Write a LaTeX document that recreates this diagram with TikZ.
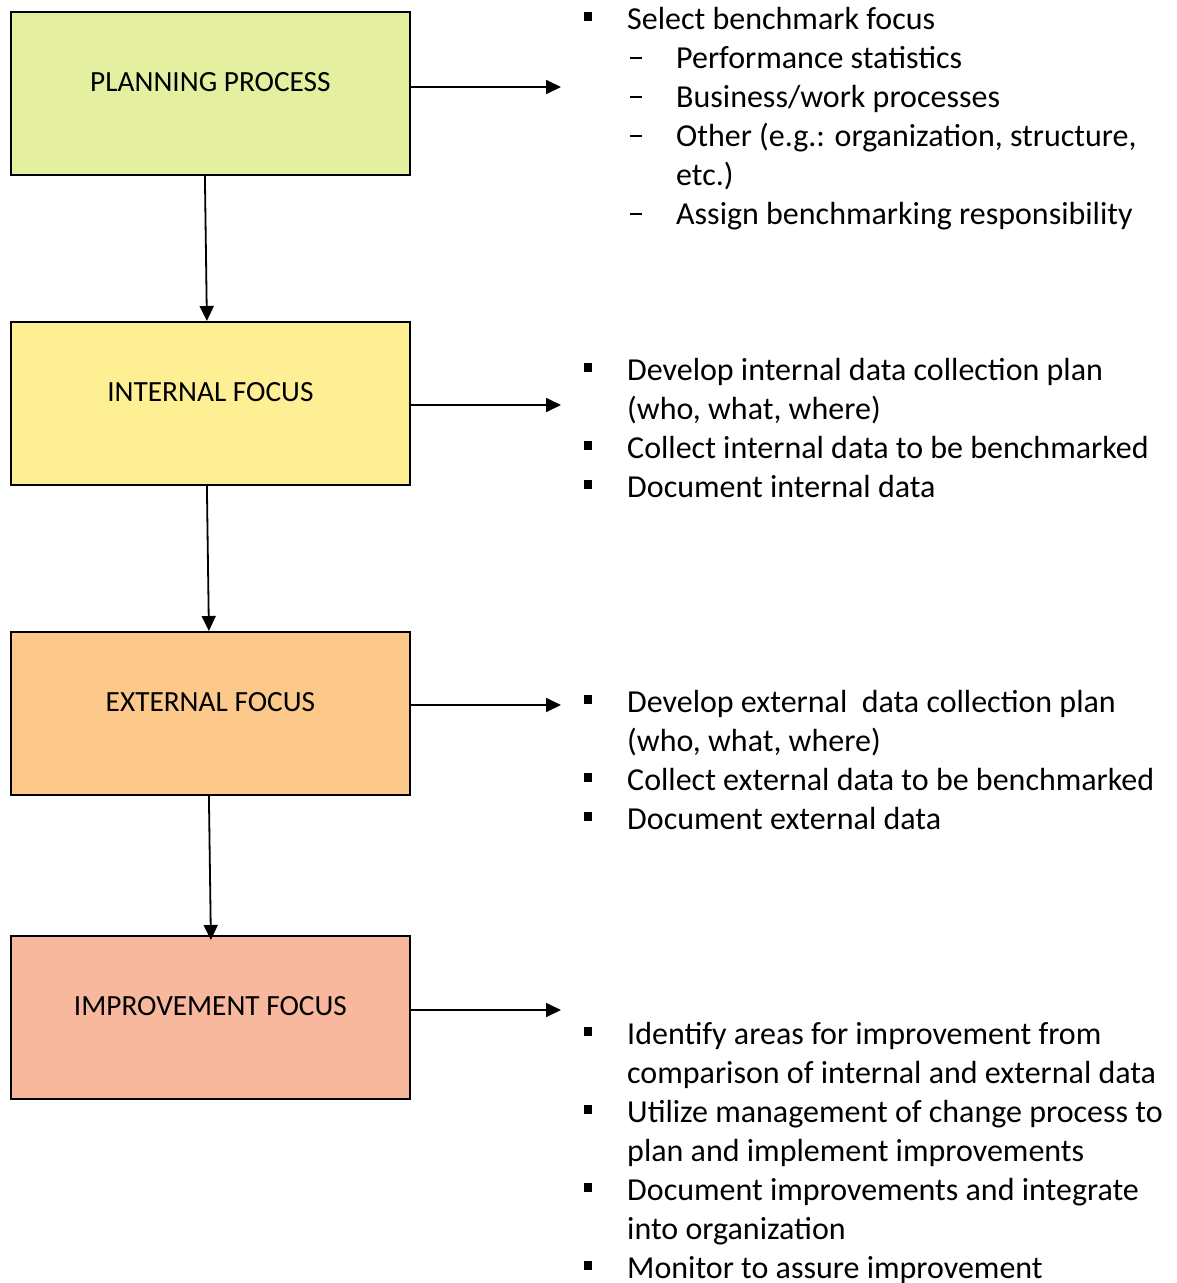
\documentclass[tikz,border=0pt]{standalone}
\usepackage{fontspec}
\setmainfont{Carlito}
\usetikzlibrary{arrows.meta}
\definecolor{cplan}{HTML}{E4EFA0}
\definecolor{cint}{HTML}{FFEF94}
\definecolor{cext}{HTML}{FDC98B}
\definecolor{cimp}{HTML}{F7B89E}
\newcommand{\bul}{\llap{\raisebox{8.5pt}{\rule{8.5pt}{8.5pt}}\hspace{35pt}}}
\newcommand{\dsh}{\llap{\raisebox{9pt}{\rule{12pt}{1.6pt}}\hspace{34pt}}}
\tikzset{
  stagebox/.style={draw, line width=1.8pt, anchor=north west, inner xsep=0pt, inner ysep=0pt,
    minimum width=399pt, text height=80pt, text depth=83pt, font=\fontsize{29.3}{35}\selectfont},
  txt/.style={anchor=base west, inner sep=0pt, font=\fontsize{32}{39}\selectfont},
  conn/.style={line width=1.8pt, -{Triangle[length=15pt,width=14pt]}},
}
\begin{document}
\begin{tikzpicture}[x=1pt,y=-1pt]
\useasboundingbox (0,0) rectangle (1176,1283);
\node[stagebox, fill=cplan] (b1) at (10,11) {PLANNING PROCESS};
\node[stagebox, fill=cint] (b2) at (10,321) {INTERNAL FOCUS};
\node[stagebox, fill=cext] (b3) at (10,631) {EXTERNAL FOCUS};
\node[stagebox, fill=cimp] (b4) at (10,935) {IMPROVEMENT FOCUS};

% right texts
\node[txt] (t11) at (627,29) {\bul Select benchmark focus};
\node[txt] (t12) at (676,68) {\dsh Performance statistics};
\node[txt] (t13) at (676,107) {\dsh Business/work processes};
\node[txt] (t14) at (676,146) {\dsh Other (e.g.: organization, structure,};
\node[txt] (t15) at (676,185) {etc.)};
\node[txt] (t16) at (676,224) {\dsh Assign benchmarking responsibility};

\node[txt] (t21) at (627,380) {\bul Develop internal data collection plan};
\node[txt] (t22) at (627,419) {(who, what, where)};
\node[txt] (t23) at (627,458) {\bul Collect internal data to be benchmarked};
\node[txt] (t24) at (627,497) {\bul Document internal data};

\node[txt] (t31) at (627,712) {\bul Develop external\ \ data collection plan};
\node[txt] (t32) at (627,751) {(who, what, where)};
\node[txt] (t33) at (627,790) {\bul Collect external data to be benchmarked};
\node[txt] (t34) at (627,829) {\bul Document external data};

\node[txt] (t41) at (627,1044) {\bul Identify areas for improvement from};
\node[txt] (t42) at (627,1083) {comparison of internal and external data};
\node[txt] (t43) at (627,1122) {\bul Utilize management of change process to};
\node[txt] (t44) at (627,1161) {plan and implement improvements};
\node[txt] (t45) at (627,1200) {\bul Document improvements and integrate};
\node[txt] (t46) at (627,1239) {into organization};
\node[txt] (t47) at (627,1278) {\bul Monitor to assure improvement};

% free ends of horizontal arrows
\coordinate (e1) at (561,87);
\coordinate (e2) at (561,405);
\coordinate (e3) at (561,705);
\coordinate (e4) at (561,1010);

\draw[conn] (b1.east |- e1) -- (e1);
\draw[conn] (b2.east |- e2) -- (e2);
\draw[conn] (b3.east |- e3) -- (e3);
\draw[conn] (b4.east |- e4) -- (e4);

% vertical arrows
\draw[conn] ([xshift=-5.5pt]b1.south) -- ([xshift=-3.5pt]b2.north);
\draw[conn] ([xshift=-3.5pt]b2.south) -- ([xshift=-1.5pt]b3.north);
\draw[conn] ([xshift=-1.5pt]b3.south) -- ([xshift=0.5pt,yshift=-5pt]b4.north);
\end{tikzpicture}
\end{document}
